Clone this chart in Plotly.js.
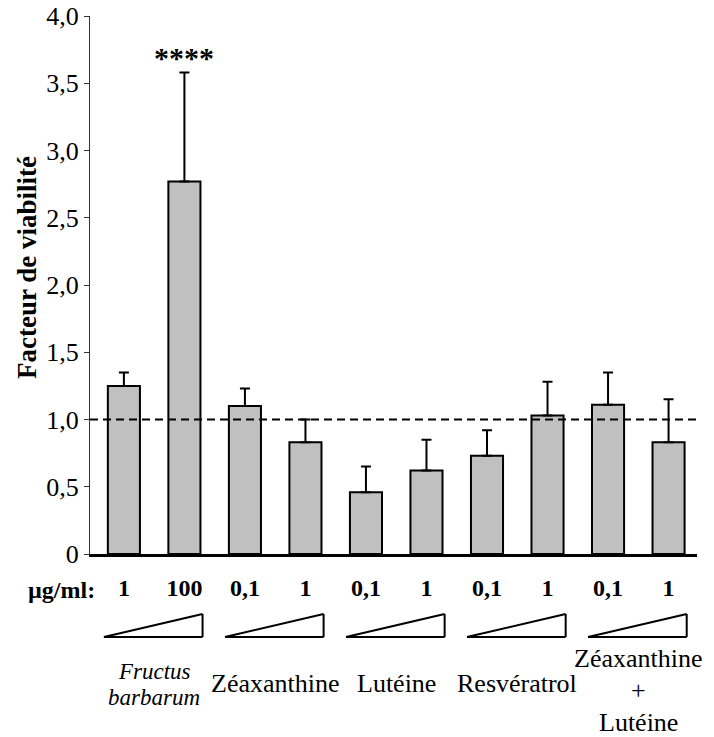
<!DOCTYPE html>
<html>
<head>
<meta charset="utf-8">
<script src="https://cdn.plot.ly/plotly-3.0.1.min.js"></script>
<style>html,body{margin:0;padding:0;background:#fff;}#chart{width:714px;height:737px;}</style>
</head>
<body>
<div id="chart"></div>
<script>
// ---- data ----
var groups = ["Fructus barbarum", "Zéaxanthine", "Lutéine", "Resvératrol", "Zéaxanthine + Lutéine"];
var groupLabelLines = [["<i>Fructus</i>", "<i>barbarum</i>"], ["Zéaxanthine"], ["Lutéine"], ["Resvératrol"], ["Zéaxanthine", "+", "Lutéine"]];
var doses = ["1", "100", "0,1", "1", "0,1", "1", "0,1", "1", "0,1", "1"];
var barGroup = [0, 0, 1, 1, 2, 2, 3, 3, 4, 4];
var viability = [1.25, 2.77, 1.10, 0.83, 0.46, 0.62, 0.73, 1.03, 1.11, 0.83];
var errorUp = [0.10, 0.81, 0.13, 0.17, 0.19, 0.23, 0.19, 0.25, 0.24, 0.32];
var yTickVals = [0, 0.5, 1, 1.5, 2, 2.5, 3, 3.5, 4];
var yTickText = ["0", "0,5", "1,0", "1,5", "2,0", "2,5", "3,0", "3,5", "4,0"];
var referenceLevel = 1.0;
var significance = "****";
var significantBar = 1;
var unitLabel = "µg/ml:";
var yTitle = "Facteur de viabilité";

// ---- build ----
var xIdx = doses.map(function (d, i) { return i; });
var serif = "'Liberation Serif', 'Times New Roman', Times, serif";
var plotTop = 16, plotBottom = 554, plotH = plotBottom - plotTop;
function py(px) { return (plotBottom - px) / plotH; }

var trace = {
  type: "bar",
  x: xIdx,
  y: viability,
  width: 0.53,
  marker: { color: "#c0c0c0", line: { color: "#000", width: 2 } },
  error_y: {
    type: "data", symmetric: false, array: errorUp,
    arrayminus: errorUp.map(function () { return 0; }),
    color: "#000", thickness: 2, width: 5
  },
  hoverinfo: "none"
};

var shapes = [{
  type: "line", xref: "paper", x0: 0, x1: 1, yref: "y", y0: referenceLevel, y1: referenceLevel,
  line: { color: "#000", width: 2, dash: "8px,5px" }, layer: "above"
}];
var annotations = [];

groups.forEach(function (g, gi) {
  var members = xIdx.filter(function (i) { return barGroup[i] === gi; });
  var a = members[0], b = members[members.length - 1];
  var left = a - 0.33, right = b + 0.30;
  var yb = py(637), yt = py(614);
  shapes.push({ type: "line", xref: "x", yref: "paper", x0: left, x1: right, y0: yb, y1: yb, line: { color: "#000", width: 2 } });
  shapes.push({ type: "line", xref: "x", yref: "paper", x0: right, x1: right, y0: yb, y1: yt, line: { color: "#000", width: 2 } });
  shapes.push({ type: "line", xref: "x", yref: "paper", x0: left, x1: right, y0: yb, y1: yt, line: { color: "#000", width: 2 } });
  var lines = groupLabelLines[gi];
  var gap = gi === 0 ? 26 : 32;
  var center = lines.length === 3 ? 690 : (lines.length === 2 ? 684 : 683);
  lines.forEach(function (t, li) {
    var yc = center + (li - (lines.length - 1) / 2) * gap;
    annotations.push({
      xref: "x", yref: "paper", x: (a + b) / 2, y: py(yc),
      xanchor: "center", yanchor: "middle", showarrow: false,
      text: t,
      font: { family: serif, size: gi === 0 ? 23 : 26, color: "#000" }
    });
  });
});

annotations.push({
  xref: "x", yref: "y", x: significantBar, y: viability[significantBar] + errorUp[significantBar],
  yshift: 15, showarrow: false, text: "<b>" + significance + "</b>",
  font: { family: serif, size: 30, color: "#000" }
});
annotations.push({
  xref: "paper", yref: "paper", x: 0.0115, y: py(590), xanchor: "right", yanchor: "middle",
  showarrow: false, text: "<b>" + unitLabel + "</b>",
  font: { family: serif, size: 24, color: "#000" }
});
annotations.push({
  xref: "paper", yref: "paper", x: (27 - 90) / 607, y: py(268), xanchor: "center", yanchor: "middle",
  textangle: -90, showarrow: false, text: "<b>" + yTitle + "</b>",
  font: { family: serif, size: 27, color: "#000" }
});

var layout = {
  width: 714, height: 737,
  margin: { l: 90, r: 17, t: plotTop, b: 737 - plotBottom },
  paper_bgcolor: "#fff", plot_bgcolor: "#fff",
  showlegend: false,
  font: { family: serif, color: "#000" },
  xaxis: {
    range: [-0.56, 9.47], showgrid: false, zeroline: false,
    showline: true, linecolor: "#000", linewidth: 2.5,
    tickmode: "array", tickvals: xIdx, ticktext: doses.map(function (d) { return "<b>" + d + "</b>"; }),
    ticks: "", ticklabelstandoff: 11,
    tickfont: { family: serif, size: 24, color: "#000" }
  },
  yaxis: {
    range: [0, 4], showgrid: false, zeroline: false,
    showline: true, linecolor: "#333", linewidth: 1,
    ticks: "outside", ticklen: 5, tickwidth: 1, tickcolor: "#333",
    tickmode: "array", tickvals: yTickVals, ticktext: yTickText,
    tickfont: { family: serif, size: 26, color: "#000" }
  },
  shapes: shapes,
  annotations: annotations
};

Plotly.newPlot("chart", [trace], layout, { displayModeBar: false, staticPlot: true });
</script>
</body>
</html>
